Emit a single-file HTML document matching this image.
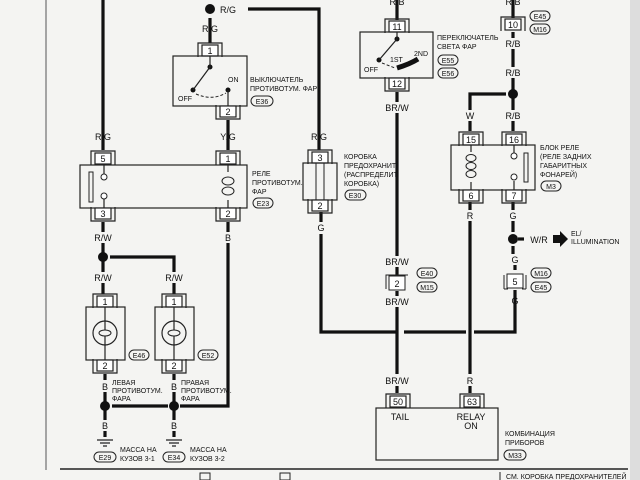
<!DOCTYPE html>
<html><head><meta charset="utf-8"><style>
html,body{margin:0;padding:0;background:#f4f4f2;}
svg{display:block;}
text{font-family:"Liberation Sans",sans-serif;fill:#111;}
.w{stroke:#111;stroke-width:3.2;fill:none;}
.t{stroke:#222;stroke-width:1.2;fill:none;}
.l{font-size:9px;text-anchor:middle;}
.s{font-size:7px;}
</style></head><body>
<svg width="640" height="480" viewBox="0 0 640 480" xmlns="http://www.w3.org/2000/svg">
<defs>
<g id="cn"><rect x="-8" y="0" width="16" height="11" fill="#fff" stroke="#222" stroke-width="1.2"/><path d="M-12 12V-2H12V12" fill="none" stroke="#222" stroke-width="1.2"/></g>
<g id="cnb"><rect x="-8" y="0" width="16" height="11" fill="#fff" stroke="#222" stroke-width="1.2"/><path d="M-12 -1V13H12V-1" fill="none" stroke="#222" stroke-width="1.2"/></g>
</defs>
<rect x="0" y="0" width="640" height="480" fill="#f4f4f2"/>
<rect x="630" y="0" width="10" height="480" fill="#ddd"/>
<line x1="46" y1="0" x2="46" y2="470" stroke="#555" stroke-width="1"/>
<line x1="60" y1="469" x2="628" y2="469" stroke="#222" stroke-width="1.5"/>

<!-- wires -->
<path class="w" d="M103 0V150"/>
<path class="w" d="M210 18V43 M248 9H319V150"/>
<path class="w" d="M228 120V150"/>
<path class="w" d="M103 222V232 M103 243V272 M103 283V294"/>
<path class="w" d="M110 257H174V272 M174 283V294"/>
<path class="w" d="M228 222V232 M228 243V406H180"/>
<path class="w" d="M105 374V380 M105 392V420 M105 431V437 M112 406H168 M174 374V380 M174 392V420 M174 431V437"/>
<path class="w" d="M321 212V222 M321 234V332H396 M404 332H466 M474 332H515V290"/>
<path class="w" d="M515 265V270"/>
<path class="w" d="M397 0V20 M397 92V102 M397 113V256 M397 267V276 M397 291V296 M397 307V374 M397 386V393"/>
<path class="w" d="M470 202V210 M470 221V374 M470 386V393"/>
<path class="w" d="M513 0V18 M513 32V38 M513 49V67 M513 78V110 M513 121V131 M506 94H470V110 M470 121V131"/>
<path class="w" d="M513 202V210 M513 221V232 M513 246V254"/>

<!-- junctions -->
<g fill="#111"><circle cx="210" cy="9" r="5"/><circle cx="103" cy="257" r="5"/><circle cx="105" cy="406" r="5"/><circle cx="174" cy="406" r="5"/><circle cx="513" cy="94" r="5"/><circle cx="513" cy="239" r="5"/></g>
<text x="228" y="13" class="l">R/G</text>

<!-- E36 switch -->
<use href="#cn" x="210" y="45"/><text x="210" y="54" class="l">1</text>
<rect x="173" y="56" width="74" height="50" fill="none" stroke="#222" stroke-width="1.2"/>
<circle cx="210" cy="67" r="2.5" fill="#111"/><circle cx="193" cy="90" r="2.5" fill="#111"/><circle cx="228" cy="90" r="2.5" fill="#111"/>
<path d="M210 56V67L193 90" class="t"/><path d="M196 94Q212 101 226 93" stroke="#222" stroke-dasharray="3 2" fill="none"/><path d="M228 90V106" class="t"/>
<text x="228" y="82" class="s">ON</text><text x="178" y="101" class="s">OFF</text>
<use href="#cnb" x="228" y="106"/><text x="228" y="115" class="l">2</text>
<text x="250" y="82" class="s">ВЫКЛЮЧАТЕЛЬ</text><text x="250" y="91" class="s">ПРОТИВОТУМ. ФАР</text>
<rect x="251" y="96" width="22" height="10" rx="5" fill="none" stroke="#222"/><text x="262" y="104" class="s" text-anchor="middle">E36</text>
<text x="210" y="32" class="l">R/G</text>
<text x="103" y="140" class="l">R/G</text><text x="228" y="140" class="l">Y/G</text>

<!-- E23 relay -->
<use href="#cn" x="103" y="153"/><text x="103" y="162" class="l">5</text>
<use href="#cn" x="228" y="153"/><text x="228" y="162" class="l">1</text>
<rect x="80" y="165" width="167" height="43" fill="none" stroke="#222" stroke-width="1.2"/>
<rect x="89" y="172" width="4" height="30" fill="none" stroke="#222"/>
<circle cx="104" cy="177" r="3" fill="#fff" stroke="#222"/><circle cx="104" cy="196" r="3" fill="#fff" stroke="#222"/>
<path d="M104 165V174 M104 199V208" class="t"/>
<path d="M228 165V172 M228 200V208" class="t"/>
<ellipse cx="228" cy="181" rx="6" ry="4" fill="none" stroke="#222"/><ellipse cx="228" cy="191" rx="6" ry="4" fill="none" stroke="#222"/>
<use href="#cnb" x="103" y="208"/><text x="103" y="217" class="l">3</text>
<use href="#cnb" x="228" y="208"/><text x="228" y="217" class="l">2</text>
<text x="252" y="176" class="s">РЕЛЕ</text><text x="252" y="185" class="s">ПРОТИВОТУМ.</text><text x="252" y="194" class="s">ФАР</text>
<rect x="253" y="198" width="20" height="10" rx="5" fill="none" stroke="#222"/><text x="263" y="206" class="s" text-anchor="middle">E23</text>
<text x="103" y="241" class="l">R/W</text><text x="228" y="241" class="l">B</text>
<text x="103" y="281" class="l">R/W</text><text x="174" y="281" class="l">R/W</text>

<!-- lamps -->
<g id="lamp">
<use href="#cn" x="105" y="296"/><text x="105" y="305" class="l">1</text>
<rect x="86" y="307" width="39" height="53" fill="none" stroke="#222" stroke-width="1.2"/>
<circle cx="105" cy="333" r="12" fill="none" stroke="#222" stroke-width="1.2"/>
<ellipse cx="105" cy="333" rx="6" ry="3" fill="none" stroke="#222"/>
<path d="M105 307V330 M105 336V360" class="t"/>
<use href="#cnb" x="105" y="360"/><text x="105" y="369" class="l">2</text>
</g>
<use href="#lamp" x="69"/>
<rect x="129" y="350" width="20" height="10" rx="5" fill="none" stroke="#222"/><text x="139" y="358" class="s" text-anchor="middle">E46</text>
<rect x="198" y="350" width="20" height="10" rx="5" fill="none" stroke="#222"/><text x="208" y="358" class="s" text-anchor="middle">E52</text>
<text x="105" y="390" class="l">B</text><text x="174" y="390" class="l">B</text>
<text x="112" y="385" class="s">ЛЕВАЯ</text><text x="112" y="393" class="s">ПРОТИВОТУМ.</text><text x="112" y="401" class="s">ФАРА</text>
<text x="181" y="385" class="s">ПРАВАЯ</text><text x="181" y="393" class="s">ПРОТИВОТУМ.</text><text x="181" y="401" class="s">ФАРА</text>
<text x="105" y="429" class="l">B</text><text x="174" y="429" class="l">B</text>
<path d="M97 440H113M100 443H110M103 446H107 M166 440H182M169 443H179M172 446H176" stroke="#222" stroke-width="1.2"/>
<rect x="94" y="452" width="22" height="10" rx="5" fill="none" stroke="#222"/><text x="105" y="460" class="s" text-anchor="middle">E29</text>
<rect x="163" y="452" width="22" height="10" rx="5" fill="none" stroke="#222"/><text x="174" y="460" class="s" text-anchor="middle">E34</text>
<text x="120" y="452" class="s">МАССА НА</text><text x="120" y="461" class="s">КУЗОВ 3-1</text>
<text x="190" y="452" class="s">МАССА НА</text><text x="190" y="461" class="s">КУЗОВ 3-2</text>
<path d="M200 473h10v7h-10z M280 473h10v7h-10z" fill="none" stroke="#222"/>

<!-- E30 fuse box -->
<text x="319" y="140" class="l">R/G</text>
<use href="#cn" x="320" y="152"/><text x="320" y="161" class="l">3</text>
<rect x="303" y="163" width="34" height="37" fill="none" stroke="#222" stroke-width="1.2"/>
<rect x="316" y="163" width="8" height="37" fill="none" stroke="#222"/>
<use href="#cnb" x="320" y="200"/><text x="320" y="209" class="l">2</text>
<text x="321" y="231" class="l">G</text>
<text x="344" y="159" class="s">КОРОБКА</text><text x="344" y="168" class="s">ПРЕДОХРАНИТ.</text><text x="344" y="177" class="s">(РАСПРЕДЕЛИТ.</text><text x="344" y="186" class="s">КОРОБКА)</text>
<rect x="345" y="190" width="21" height="10" rx="5" fill="none" stroke="#222"/><text x="355" y="198" class="s" text-anchor="middle">E30</text>

<!-- E55 switch -->
<text x="397" y="5" class="l">R/B</text>
<use href="#cn" x="397" y="21"/><text x="397" y="30" class="l">11</text>
<rect x="360" y="32" width="73" height="46" fill="none" stroke="#222" stroke-width="1.2"/>
<circle cx="397" cy="39" r="2.5" fill="#111"/><circle cx="379" cy="60" r="2.5" fill="#111"/>
<path d="M397 32V39L379 60" class="t"/><path d="M382 63L395 68" stroke="#222" stroke-dasharray="3 2"/>
<path d="M397 68Q410 64 418 59" stroke="#111" stroke-width="5" fill="none"/>
<text x="390" y="62" class="s">1ST</text><text x="414" y="56" class="s">2ND</text><text x="364" y="72" class="s">OFF</text>
<use href="#cnb" x="397" y="78"/><text x="397" y="87" class="l">12</text>
<text x="437" y="40" class="s">ПЕРЕКЛЮЧАТЕЛЬ</text><text x="437" y="49" class="s">СВЕТА ФАР</text>
<rect x="438" y="55" width="20" height="10" rx="5" fill="none" stroke="#222"/><text x="448" y="63" class="s" text-anchor="middle">E55</text>
<rect x="438" y="68" width="20" height="10" rx="5" fill="none" stroke="#222"/><text x="448" y="76" class="s" text-anchor="middle">E56</text>
<text x="397" y="111" class="l">BR/W</text>
<text x="397" y="265" class="l">BR/W</text>
<path d="M389 276H405V290H389Z" fill="#fff" stroke="#222"/><path d="M386 289V275H408" fill="none" stroke="#222"/>
<text x="397" y="287" class="l">2</text>
<rect x="417" y="268" width="20" height="10" rx="5" fill="none" stroke="#222"/><text x="427" y="276" class="s" text-anchor="middle">E40</text>
<rect x="417" y="282" width="20" height="10" rx="5" fill="none" stroke="#222"/><text x="427" y="290" class="s" text-anchor="middle">M15</text>
<text x="397" y="305" class="l">BR/W</text>
<text x="397" y="384" class="l">BR/W</text>

<!-- right column -->
<text x="513" y="5" class="l">R/B</text>
<use href="#cn" x="513" y="19"/><text x="513" y="28" class="l">10</text>
<rect x="530" y="11" width="20" height="10" rx="5" fill="none" stroke="#222"/><text x="540" y="19" class="s" text-anchor="middle">E45</text>
<rect x="530" y="24" width="20" height="10" rx="5" fill="none" stroke="#222"/><text x="540" y="32" class="s" text-anchor="middle">M16</text>
<text x="513" y="47" class="l">R/B</text><text x="513" y="76" class="l">R/B</text>
<text x="470" y="119" class="l">W</text><text x="513" y="119" class="l">R/B</text>
<use href="#cn" x="471" y="134"/><text x="471" y="143" class="l">15</text>
<use href="#cn" x="514" y="134"/><text x="514" y="143" class="l">16</text>
<rect x="451" y="145" width="84" height="45" fill="none" stroke="#222" stroke-width="1.2"/>
<path d="M471 145V152 M471 182V190 M514 145V153 M514 181V190" class="t"/>
<ellipse cx="471" cy="158" rx="5" ry="3.5" fill="none" stroke="#222"/><ellipse cx="471" cy="166" rx="5" ry="3.5" fill="none" stroke="#222"/><ellipse cx="471" cy="174" rx="5" ry="3.5" fill="none" stroke="#222"/>
<circle cx="514" cy="156" r="3" fill="#fff" stroke="#222"/><circle cx="514" cy="177" r="3" fill="#fff" stroke="#222"/>
<rect x="524" y="153" width="4" height="29" fill="none" stroke="#222"/>
<use href="#cnb" x="471" y="190"/><text x="471" y="199" class="l">6</text>
<use href="#cnb" x="514" y="190"/><text x="514" y="199" class="l">7</text>
<text x="540" y="150" class="s">БЛОК РЕЛЕ</text><text x="540" y="159" class="s">(РЕЛЕ ЗАДНИХ</text><text x="540" y="168" class="s">ГАБАРИТНЫХ</text><text x="540" y="177" class="s">ФОНАРЕЙ)</text>
<rect x="541" y="181" width="20" height="10" rx="5" fill="none" stroke="#222"/><text x="551" y="189" class="s" text-anchor="middle">M3</text>
<text x="470" y="219" class="l">R</text><text x="513" y="219" class="l">G</text>
<path class="w" d="M518 239H524"/>
<text x="539" y="243" class="l">W/R</text>
<path d="M553 235H560V231L568 239L560 247V243H553Z" fill="#111"/>
<text x="571" y="236" class="s">EL/</text><text x="571" y="244" class="s">ILLUMINATION</text>
<text x="515" y="263" class="l">G</text>
<path d="M507 274H523V288H507Z" fill="#fff" stroke="#222"/><path d="M504 289V275 M526 289V275 M504 289H508 M522 289H526" fill="none" stroke="#222"/>
<text x="515" y="285" class="l">5</text>
<rect x="531" y="268" width="20" height="10" rx="5" fill="none" stroke="#222"/><text x="541" y="276" class="s" text-anchor="middle">M16</text>
<rect x="531" y="282" width="20" height="10" rx="5" fill="none" stroke="#222"/><text x="541" y="290" class="s" text-anchor="middle">E45</text>
<text x="515" y="304" class="l">G</text>
<text x="470" y="384" class="l">R</text>

<!-- M33 -->
<use href="#cn" x="398" y="396"/><text x="398" y="405" class="l">50</text>
<use href="#cn" x="472" y="396"/><text x="472" y="405" class="l">63</text>
<rect x="376" y="408" width="122" height="52" fill="none" stroke="#222" stroke-width="1.2"/>
<text x="400" y="420" class="l">TAIL</text><text x="471" y="420" class="l">RELAY</text><text x="471" y="429" class="l">ON</text>
<text x="505" y="436" class="s">КОМБИНАЦИЯ</text><text x="505" y="445" class="s">ПРИБОРОВ</text>
<rect x="504" y="450" width="22" height="10" rx="5" fill="none" stroke="#222"/><text x="515" y="458" class="s" text-anchor="middle">M33</text>
<line x1="500" y1="472" x2="500" y2="480" stroke="#222"/>
<text x="506" y="479" class="s">СМ. КОРОБКА ПРЕДОХРАНИТЕЛЕЙ</text>
</svg>
</body></html>
